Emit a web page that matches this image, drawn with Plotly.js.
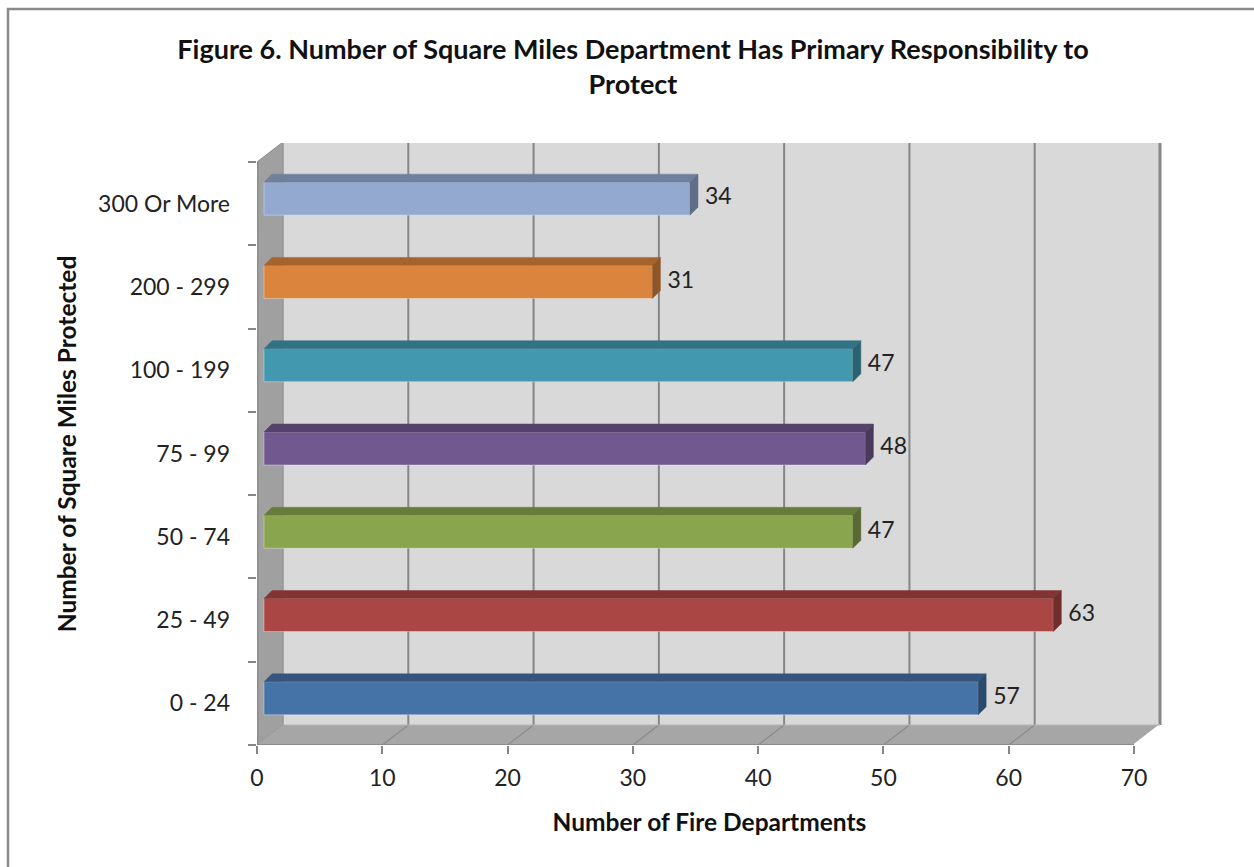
<!DOCTYPE html>
<html>
<head>
<meta charset="utf-8">
<script src="https://cdn.plot.ly/plotly-3.0.1.min.js"></script>
<style>html,body{margin:0;padding:0;background:#fff;}#chart{width:1254px;height:867px;}</style>
</head>
<body>
<div id="chart"></div>
<script>
// ---- data ----
const categories = ["0 - 24", "25 - 49", "50 - 74", "75 - 99", "100 - 199", "200 - 299", "300 Or More"];
const counts = [57, 63, 47, 48, 47, 31, 34];
const xTickValues = [0, 10, 20, 30, 40, 50, 60, 70];
const titleText = "Figure 6. Number of Square Miles Department Has Primary Responsibility to<br>Protect";
const xTitle = "Number of Fire Departments";
const yTitle = "Number of Square Miles Protected";

// ---- styles ----
const frontColors = ["#4572a7", "#aa4643", "#89a54e", "#71588f", "#4198af", "#db843d", "#93a9cf"];
const topColors   = ["#34567e", "#813532", "#677c3b", "#55426c", "#317284", "#a5632e", "#6f7f9c"];
const sideColors  = ["#2c4a6c", "#6f2d2b", "#586a33", "#49395d", "#2a6271", "#8e5527", "#5f6d86"];
const fam = "Lato, 'Open Sans', sans-serif";

// geometry (pixels -> axis units)
const plotL = 257, plotR = 1162, plotT = 143, plotB = 745;
const pxPerUnit = (1134 - 257) / 70;
const pyPerCat = (745 - 162) / 7;
const xMax = (plotR - plotL) / pxPerUnit;
const yMin = -0.5, yMax = -0.5 + (plotB - plotT) / pyPerCat;
const wallDx = 26 / pxPerUnit, wallDy = 20 / pyPerCat;
const barOff = 7 / pxPerUnit, barShift = 5 / pyPerCat, barW = 33 / pyPerCat;
const barDx = 8 / pxPerUnit, barDy = 8 / pyPerCat;
const labelPad = 7 / pxPerUnit;
const nCat = categories.length;
const catIdx = categories.map((c, i) => i);

// ---- traces ----
const traces = [];
traces.push({
  type: "bar", orientation: "h",
  x: counts, y: catIdx.map(i => i + barShift), base: barOff, width: barW,
  marker: {color: frontColors, line: {color: "rgba(255,255,255,0.35)", width: 1}},
  hoverinfo: "x", showlegend: false
});
counts.forEach((v, i) => {
  const yb = i + barShift - barW / 2, yt = i + barShift + barW / 2;
  const x0 = barOff, x1 = barOff + v;
  traces.push({
    type: "scatter", mode: "lines", fill: "toself", fillcolor: topColors[i],
    x: [x0, x1, x1 + barDx, x0 + barDx, x0], y: [yt, yt, yt + barDy, yt + barDy, yt],
    line: {color: topColors[i], width: 0.5}, hoverinfo: "skip", showlegend: false
  });
  traces.push({
    type: "scatter", mode: "lines", fill: "toself", fillcolor: sideColors[i],
    x: [x1, x1 + barDx, x1 + barDx, x1, x1], y: [yb, yb + barDy, yt + barDy, yt, yb],
    line: {color: sideColors[i], width: 0.5}, hoverinfo: "skip", showlegend: false
  });
});
traces.push({
  type: "scatter", mode: "text",
  x: counts.map(v => barOff + v + barDx + labelPad), y: catIdx.map(i => i + barShift),
  text: counts.map(String), textposition: "middle right",
  textfont: {family: fam, size: 23, color: "#222"},
  hoverinfo: "skip", showlegend: false
});

// ---- shapes: 3D walls ----
const wallLine = "#8c8c8c";
const shapes = [];
const yLo = -0.5, yHi = nCat - 0.5;
shapes.push({type: "path", layer: "below", xref: "x", yref: "y",
  path: `M ${wallDx},${yLo + wallDy} L ${70 + wallDx},${yLo + wallDy} L ${70 + wallDx},${yHi + wallDy} L ${wallDx},${yHi + wallDy} Z`,
  fillcolor: "#d9d9d9", line: {width: 0}});
shapes.push({type: "path", layer: "below", xref: "x", yref: "y",
  path: `M 0,${yLo} L 0,${yHi} L ${wallDx},${yHi + wallDy} L ${wallDx},${yLo + wallDy} Z`,
  fillcolor: "#a0a0a0", line: {color: wallLine, width: 1}});
shapes.push({type: "path", layer: "below", xref: "x", yref: "y",
  path: `M 0,${yLo} L 70,${yLo} L ${70 + wallDx},${yLo + wallDy} L ${wallDx},${yLo + wallDy} Z`,
  fillcolor: "#a6a6a6", line: {width: 0}});
xTickValues.slice(1).forEach(v => {
  shapes.push({type: "line", layer: "below", xref: "x", yref: "y",
    x0: v + wallDx, x1: v + wallDx, y0: yLo + wallDy, y1: yHi + wallDy,
    line: {color: "#868686", width: v === 70 ? 3 : 2}});
  shapes.push({type: "line", layer: "below", xref: "x", yref: "y",
    x0: v, x1: v + wallDx, y0: yLo, y1: yLo + wallDy,
    line: {color: v === 70 ? "#ffffff" : "#8a8a8a", width: v === 70 ? 2 : 1.2}});
});
shapes.push({type: "line", layer: "below", xref: "x", yref: "y",
  x0: wallDx, x1: 70 + wallDx, y0: yLo + wallDy, y1: yLo + wallDy,
  line: {color: "#b5b5b5", width: 1}});
shapes.push({type: "line", layer: "below", xref: "x", yref: "y",
  x0: 0, x1: 70, y0: yLo, y1: yLo, line: {color: wallLine, width: 2}});
shapes.push({type: "line", layer: "below", xref: "x", yref: "y",
  x0: 0, x1: 0, y0: yLo, y1: yHi, line: {color: wallLine, width: 3}});
shapes.push({type: "line", layer: "below", xref: "x", yref: "y",
  x0: wallDx, x1: wallDx, y0: yLo + wallDy, y1: yHi + wallDy, line: {color: "#9a9a9a", width: 1}});
// outer chart border
shapes.push({type: "rect", xref: "paper", yref: "paper",
  x0: (8 - plotL) / (plotR - plotL), x1: (1262 - plotL) / (plotR - plotL),
  y0: (plotB - 875) / (plotB - plotT), y1: (plotB - 9) / (plotB - plotT),
  line: {color: "#8a8a8a", width: 2.5}, fillcolor: "rgba(0,0,0,0)"});

const baseFont = {family: fam, size: 23, color: "#222"};

const layout = {
  width: 1254, height: 867,
  margin: {l: plotL, r: 1254 - plotR, t: plotT, b: 867 - plotB, pad: 0},
  paper_bgcolor: "#ffffff", plot_bgcolor: "rgba(0,0,0,0)",
  font: baseFont,
  showlegend: false,
  title: {text: titleText, xref: "container", yref: "container",
    x: 633 / 1254, xanchor: "center", y: 1 - 59 / 867, yanchor: "middle",
    font: {family: fam, size: 27, color: "#111", weight: "bold"}},
  xaxis: {
    range: [0, xMax], tickvals: xTickValues, ticktext: xTickValues.map(String),
    ticks: "outside", ticklen: 8, tickwidth: 2, tickcolor: "#868686",
    showgrid: false, zeroline: false, showline: false,
    ticklabelstandoff: 4,
    tickfont: baseFont,
    title: {text: xTitle, standoff: 24,
      font: {family: fam, size: 24.5, color: "#111", weight: "bold"}},
    fixedrange: true
  },
  yaxis: {
    range: [yMin, yMax], tickvals: catIdx, ticktext: categories,
    ticks: "", showgrid: false, zeroline: false, showline: false,
    ticklabelstandoff: 26,
    minor: {tickmode: "linear", tick0: -0.5, dtick: 1, ticks: "outside", ticklen: 8, tickwidth: 2, tickcolor: "#868686", showgrid: false},
    tickfont: baseFont,
    title: {text: yTitle, standoff: 14,
      font: {family: fam, size: 24.5, color: "#111", weight: "bold"}},
    fixedrange: true
  },
  shapes: shapes
};

Plotly.newPlot("chart", traces, layout, {displayModeBar: false, staticPlot: true});
</script>
</body>
</html>
